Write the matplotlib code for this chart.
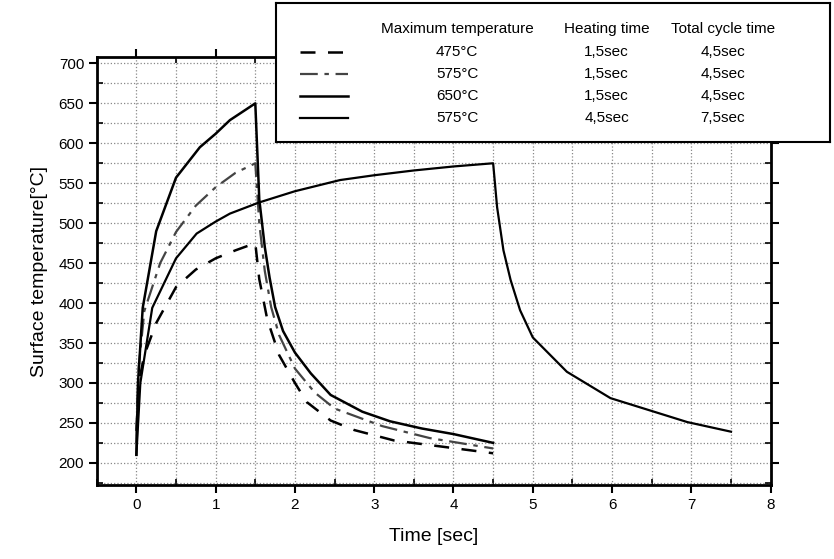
import matplotlib.pyplot as plt
from matplotlib.ticker import MultipleLocator

plt.rcParams['font.family'] = ['Liberation Sans', 'DejaVu Sans']

# Heating + cooling curves, time in sec, surface temperature in degC
t_475 = [0.0, 0.03, 0.1, 0.25, 0.5, 0.75, 1.0, 1.25, 1.5,
         1.55, 1.65, 1.8, 2.0, 2.15, 2.45, 2.75, 3.25, 3.8, 4.5]
T_475 = [240, 300, 335, 375, 420, 442, 456, 466, 475,
         430, 380, 335, 300, 276, 253, 241, 228, 221, 212]

t_575 = [0.0, 0.03, 0.1, 0.3, 0.5, 0.75, 1.0, 1.25, 1.5,
         1.55, 1.62, 1.7, 1.8, 2.0, 2.25, 2.5, 3.1, 3.7, 4.5]
T_575 = [225, 320, 390, 450, 489, 522, 545, 563, 575,
         500, 440, 395, 360, 318, 288, 268, 246, 231, 218]

t_650 = [0.0, 0.02, 0.08, 0.25, 0.5, 0.8, 1.0, 1.18, 1.5,
         1.55, 1.62, 1.68, 1.75, 1.85, 2.0, 2.2, 2.45, 2.85, 3.2, 3.6, 4.0, 4.5]
T_650 = [210, 300, 394, 490, 557, 595, 612, 629, 650,
         530, 470, 432, 395, 365, 338, 312, 285, 264, 252, 243, 236, 225]

t_575_long = [0.0, 0.05, 0.2, 0.5, 0.76, 1.0, 1.18, 1.55, 2.0, 2.57, 3.0, 3.5, 4.0, 4.5,
              4.55, 4.63, 4.72, 4.84, 5.0, 5.43, 5.98, 6.53, 6.95, 7.5]
T_575_long = [210, 300, 394, 456, 487, 502, 512, 526, 540, 554, 560, 566, 571, 575,
              520, 466, 429, 391, 357, 314, 281, 264, 251, 239]

# legend table rows
max_temps = ['475°C', '575°C', '650°C', '575°C']
heat_times = ['1,5sec', '1,5sec', '1,5sec', '4,5sec']
cycle_times = ['4,5sec', '4,5sec', '4,5sec', '7,5sec']

styles = [dict(color='black', lw=1.8, ls=(0, (6, 5))),
          dict(color='#444444', lw=1.6, ls=(0, (8, 3, 2, 3))),
          dict(color='black', lw=1.8, ls='-'),
          dict(color='black', lw=1.6, ls='-')]
curves = [(t_475, T_475), (t_575, T_575), (t_650, T_650), (t_575_long, T_575_long)]

fig = plt.figure(figsize=(8.34, 5.59), dpi=100)
ax = fig.add_axes([0.116, 0.132, 0.808, 0.766])

for (t, T), st in zip(curves, styles):
    ax.plot(t, T, **st)

ax.set_xlim(-0.5, 8)
ax.set_ylim(172, 708)
ax.xaxis.set_major_locator(MultipleLocator(1))
ax.xaxis.set_minor_locator(MultipleLocator(0.5))
ax.yaxis.set_major_locator(MultipleLocator(50))
ax.yaxis.set_minor_locator(MultipleLocator(25))
ax.grid(True, which='both', ls=':', color='#888888', lw=0.9)
ax.set_axisbelow(True)

ax.tick_params(which='major', direction='out', length=6, width=1.5,
               labelsize=11, pad=3)
ax.tick_params(which='minor', direction='in', length=4, width=1.2)
ax.tick_params(which='both', top=True, right=True)
for s in ax.spines.values():
    s.set_linewidth(2)

ax.set_xlabel('Time [sec]', fontsize=14, labelpad=12)
ax.set_ylabel('Surface temperature[°C]', fontsize=14, labelpad=8)

# table-style legend box overlapping the top right corner
lg = fig.add_axes([0.331, 0.746, 0.664, 0.249], zorder=5)
lg.set_xlim(0, 1)
lg.set_ylim(0, 1)
lg.set_xticks([])
lg.set_yticks([])
for s in lg.spines.values():
    s.set_linewidth(1.5)

col_x = [0.327, 0.597, 0.807]
head_y = 0.81
row_y = [0.647, 0.489, 0.331, 0.173]
for x, h in zip(col_x, ['Maximum temperature', 'Heating time', 'Total cycle time']):
    lg.text(x, head_y, h, ha='center', va='center', fontsize=11)
for y, st, a, b, c in zip(row_y, styles, max_temps, heat_times, cycle_times):
    lg.plot([0.043, 0.130], [y, y], **st)
    lg.text(col_x[0], y, a, ha='center', va='center', fontsize=11)
    lg.text(col_x[1], y, b, ha='center', va='center', fontsize=11)
    lg.text(col_x[2], y, c, ha='center', va='center', fontsize=11)

fig.savefig('out.png', dpi=100)
